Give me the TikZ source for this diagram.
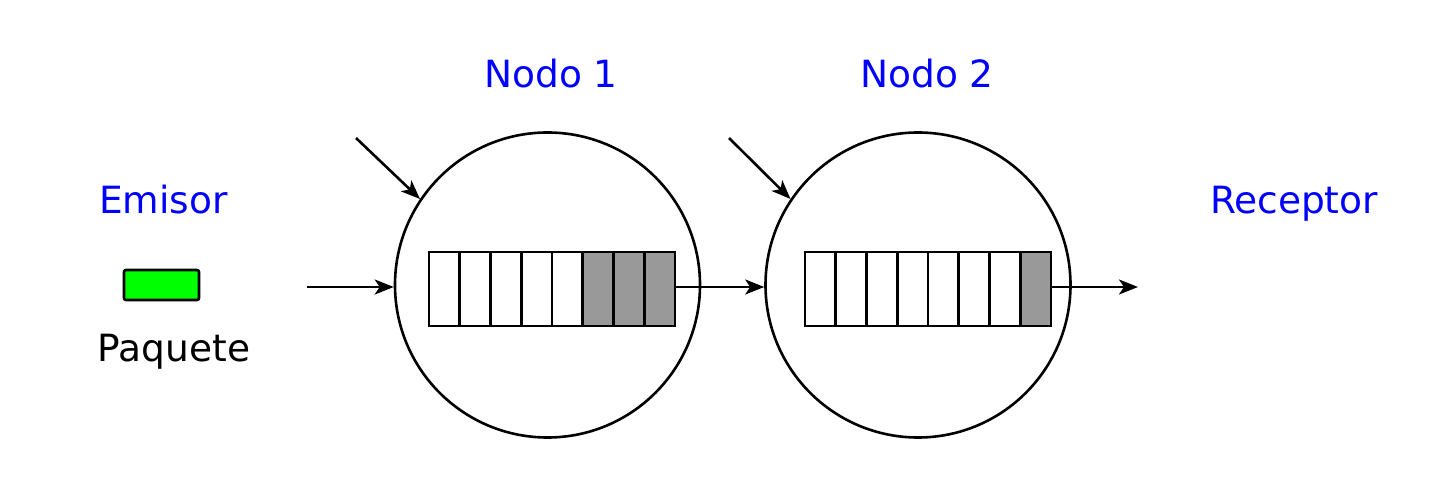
\documentclass[tikz,border=0pt]{standalone}
\usepackage{fontspec}
\setmainfont{DejaVu Sans}
\usetikzlibrary{arrows.meta}
\definecolor{lbl}{RGB}{0,0,255}
\definecolor{pkt}{RGB}{0,255,0}
\definecolor{busy}{RGB}{153,153,153}
\begin{document}
\begin{tikzpicture}[x=1pt,y=-1pt,
  lab/.style={font=\fontsize{37.5}{45}\selectfont, anchor=base, inner sep=0pt},
  nodecirc/.style={circle, draw, line width=2.6pt, minimum size=305pt, inner sep=0pt},
  cell/.style={draw, line width=2.6pt, minimum width=30.75pt, minimum height=74pt, inner sep=0pt, fill=white},
  busycell/.style={cell, fill=busy},
  arr/.style={line width=2.6pt, -{Stealth[length=19pt,width=15pt,inset=5pt]}}]
\useasboundingbox (0,0) rectangle (1430,494);
\node[nodecirc] (c1) at (547.5,285) {};
\node[nodecirc] (c2) at (918,285) {};
% queue 1
\foreach \i in {1,...,8} {
  \ifnum\i>5
    \node[busycell] (a\i) at ({429+30.75*(\i-0.5)},289) {};
  \else
    \node[cell] (a\i) at ({429+30.75*(\i-0.5)},289) {};
  \fi
}
% queue 2
\foreach \i in {1,...,8} {
  \ifnum\i>7
    \node[busycell] (b\i) at ({805+30.75*(\i-0.5)},289) {};
  \else
    \node[cell] (b\i) at ({805+30.75*(\i-0.5)},289) {};
  \fi
}
\node[lab, text=lbl] (n1) at (551,88) {Nodo 1};
\node[lab, text=lbl] (n2) at (927,88) {Nodo 2};
\node[lab, text=lbl] (em) at (163.5,214) {Emisor};
\node[lab, text=lbl] (rc) at (1294,214) {Receptor};
\node[draw, line width=2.6pt, fill=pkt, rounded corners=2pt, minimum width=75pt, minimum height=30pt, inner sep=0pt] (pk) at (161.5,285) {};
\node[lab] (pq) at (174,362) {Paquete};
\coordinate (in1) at (307,287);
\coordinate (d1) at (356,138);
\coordinate (d2) at (729,138);
\coordinate (out2) at (1138,287);
\draw[arr] (in1) -- (c1.west |- in1);
\draw[arr] (d1) -- (c1.146);
\draw[arr] (d2) -- (c2.146);
\draw[arr] (a8.east |- in1) -- (c2.west |- in1);
\draw[arr] (b8.east |- in1) -- (out2);
\end{tikzpicture}
\end{document}
